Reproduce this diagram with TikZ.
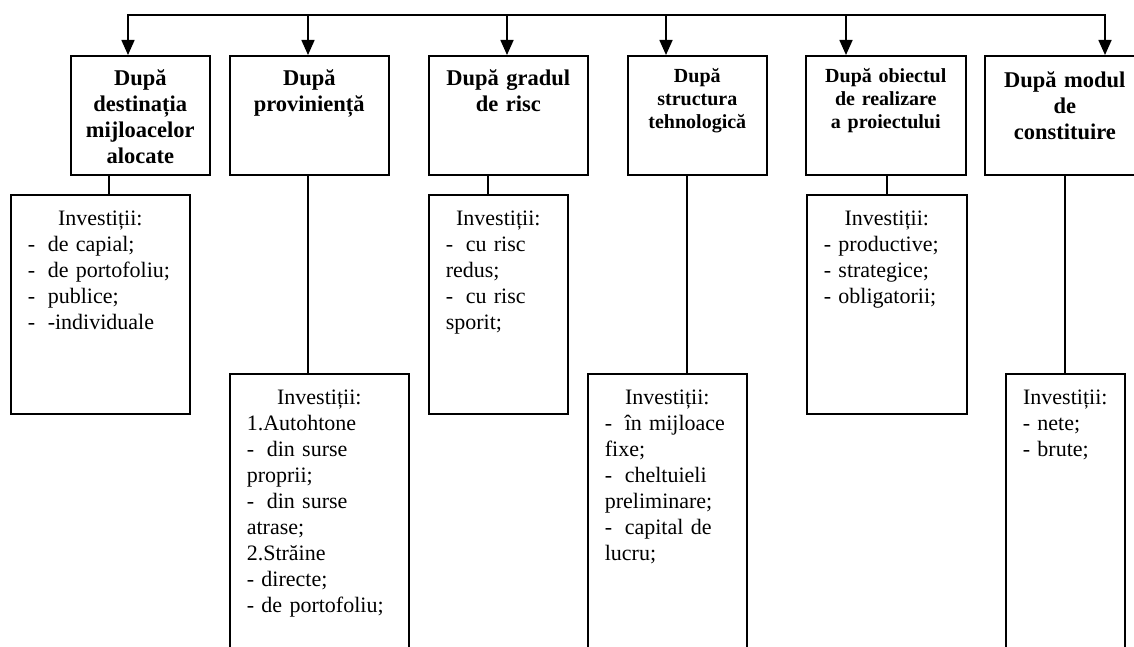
\documentclass[tikz,border=0pt]{standalone}
\usepackage{fontspec}
\setmainfont{Liberation Serif}
\usepackage{tikz}
\usetikzlibrary{arrows.meta,positioning}

\newcommand{\tabdash}{\makebox[20pt][l]{-}}

\tikzset{
  hdbox/.style   = {draw, line width = 1.6pt, inner sep = 0pt, anchor = north west, minimum height = 119pt},
  detbox/.style  = {draw, line width = 1.6pt, inner sep = 0pt, anchor = north west},
  txt/.style     = {inner sep = 0pt, anchor = north, execute at begin node = {\rule{0pt}{20pt}}},
  hdtext/.style  = {txt, align = center, font = \bfseries\fontsize{22.5}{26}\selectfont},
  hdsmall/.style = {txt, align = center, font = \bfseries\fontsize{20}{23}\selectfont},
  dettext/.style = {txt, align = left, font = \fontsize{22}{26}\selectfont},
  link/.style    = {line width = 1.6pt},
  feed/.style    = {link, -{Triangle[length = 15pt, width = 13pt]}},
}

\begin{document}
\begin{tikzpicture}[x = 1pt, y = -1pt]

  \useasboundingbox (0, 0) rectangle (1134, 647);
  \clip (0, 0) rectangle (1134, 647);

  % Header boxes
  \node[hdbox, minimum width = 139pt] (h1) at ( 70, 55) {};
  \node[hdbox, minimum width = 159pt] (h2) at (229, 55) {};
  \node[hdbox, minimum width = 159pt] (h3) at (428, 55) {};
  \node[hdbox, minimum width = 139pt] (h4) at (627, 55) {};
  \node[hdbox, minimum width = 160pt] (h5) at (805, 55) {};
  \node[hdbox, minimum width = 160pt] (h6) at (984, 55) {};

  % Header texts
  \node[hdtext,  text width = 135pt, below = 10pt of h1.north] (t1) {După\\destinația\\mijloacelor\\alocate};
  \node[hdtext,  text width = 150pt, below = 10pt of h2.north] (t2) {După\\proviniență};
  \node[hdtext,  text width = 150pt, below = 10pt of h3.north] (t3) {După gradul\\de risc};
  \node[hdsmall, text width = 135pt, below =  7pt of h4.north] (t4) {După\\structura\\tehnologică};
  \node[hdsmall, text width = 150pt, below =  7pt of h5.north] (t5) {După obiectul\\de realizare\\a proiectului};
  \node[hdtext,  text width = 150pt, below = 12pt of h6.north] (t6) {După modul\\de\\constituire};

  % Detail boxes
  \node[detbox, minimum width = 179pt, minimum height = 219pt] (d1) at (  10, 194) {};
  \node[detbox, minimum width = 179pt, minimum height = 290pt] (d2) at ( 229, 373) {};
  \node[detbox, minimum width = 139pt, minimum height = 219pt] (d3) at ( 428, 194) {};
  \node[detbox, minimum width = 159pt, minimum height = 290pt] (d4) at ( 587, 373) {};
  \node[detbox, minimum width = 160pt, minimum height = 219pt] (d5) at ( 806, 194) {};
  \node[detbox, minimum width = 119pt, minimum height = 290pt] (d6) at (1005, 373) {};

  % Detail texts
  \node[dettext, text width = 145pt, below = 11pt of d1.north] (s1) {\makebox[\linewidth]{Investiții:}\\
    \tabdash de capial;\\ \tabdash de portofoliu;\\ \tabdash publice;\\ \tabdash -individuale};
  \node[dettext, text width = 145pt, below = 11pt of d2.north] (s2) {\makebox[\linewidth]{Investiții:}\\
    1.Autohtone\\ \tabdash din surse\\ proprii;\\ \tabdash din surse\\ atrase;\\
    2.Străine\\ - directe;\\ - de portofoliu;};
  \node[dettext, text width = 105pt, below = 11pt of d3.north] (s3) {\makebox[\linewidth]{Investiții:}\\
    \tabdash cu risc\\ redus;\\ \tabdash cu risc\\ sporit;};
  \node[dettext, text width = 125pt, below = 11pt of d4.north] (s4) {\makebox[\linewidth]{Investiții:}\\
    \tabdash în mijloace\\ fixe;\\ \tabdash cheltuieli\\ preliminare;\\ \tabdash capital de\\ lucru;};
  \node[dettext, text width = 126pt, below = 11pt of d5.north] (s5) {\makebox[\linewidth]{Investiții:}\\
    - productive;\\ - strategice;\\ - obligatorii;};
  \node[dettext, text width =  85pt, below = 11pt of d6.north] (s6) {\makebox[\linewidth]{Investiții:}\\
    - nete;\\ - brute;};

  % Bus and arrows into the headers
  \coordinate (b1) at ( 128, 15);
  \coordinate (b2) at ( 308, 15);
  \coordinate (b3) at ( 507, 15);
  \coordinate (b4) at ( 666, 15);
  \coordinate (b5) at ( 846, 15);
  \coordinate (b6) at (1105, 15);

  \draw[link, {Triangle[length = 15pt, width = 13pt]}-{Triangle[length = 15pt, width = 13pt]}]
    (b1 |- h1.north) -- (b1) -- (b6) -- (b6 |- h6.north);
  \draw[feed] (b2) -- (b2 |- h2.north);
  \draw[feed] (b3) -- (b3 |- h3.north);
  \draw[feed] (b4) -- (b4 |- h4.north);
  \draw[feed] (b5) -- (b5 |- h5.north);

  % Links from headers to details
  \coordinate (l1) at ( 109, 0);
  \coordinate (l2) at ( 308, 0);
  \coordinate (l3) at ( 488, 0);
  \coordinate (l4) at ( 687, 0);
  \coordinate (l5) at ( 887, 0);
  \coordinate (l6) at (1065, 0);

  \draw[link] (h1.south -| l1) -- (d1.north -| l1);
  \draw[link] (h2.south -| l2) -- (d2.north -| l2);
  \draw[link] (h3.south -| l3) -- (d3.north -| l3);
  \draw[link] (h4.south -| l4) -- (d4.north -| l4);
  \draw[link] (h5.south -| l5) -- (d5.north -| l5);
  \draw[link] (h6.south -| l6) -- (d6.north -| l6);

\end{tikzpicture}
\end{document}
